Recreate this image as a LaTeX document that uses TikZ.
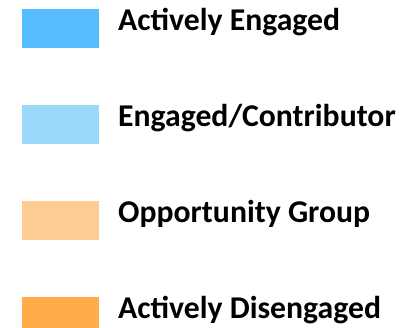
\documentclass[tikz,border=0pt]{standalone}
\usepackage{fontspec}
\setmainfont{Carlito}
\begin{document}
\begin{tikzpicture}[x=1pt,y=-1pt]
\useasboundingbox (0,0) rectangle (412,327);
\pgfmathsetmacro\gap{96};
\tikzset{swatch/.style = {fill = #1, draw = none}, lbl/.style = {anchor = base west, inner sep = 0, font = \fontsize{31.7}{32}\selectfont\bfseries}}
\definecolor{activecol}{RGB}{86,190,254}
\definecolor{engagedcol}{RGB}{155,217,251}
\definecolor{oppcol}{RGB}{253,204,146}
\definecolor{disengcol}{RGB}{255,172,74}
\foreach \c [count=\n from 0] in {activecol,engagedcol,oppcol,disengcol} \fill [swatch = \c] (22,9+\gap*\n) rectangle (99,48+\gap*\n);
\node[lbl] (active) at (118,30) {Actively Engaged};
\node[lbl] (engaged) at (118,30+\gap) {Engaged/Contributor};
\node[lbl] (opp) at (118,30+\gap*2) {Opportunity Group};
\node[lbl] (diseng) at (118,30+\gap*3) {Actively Disengaged};
\end{tikzpicture}
\end{document}
